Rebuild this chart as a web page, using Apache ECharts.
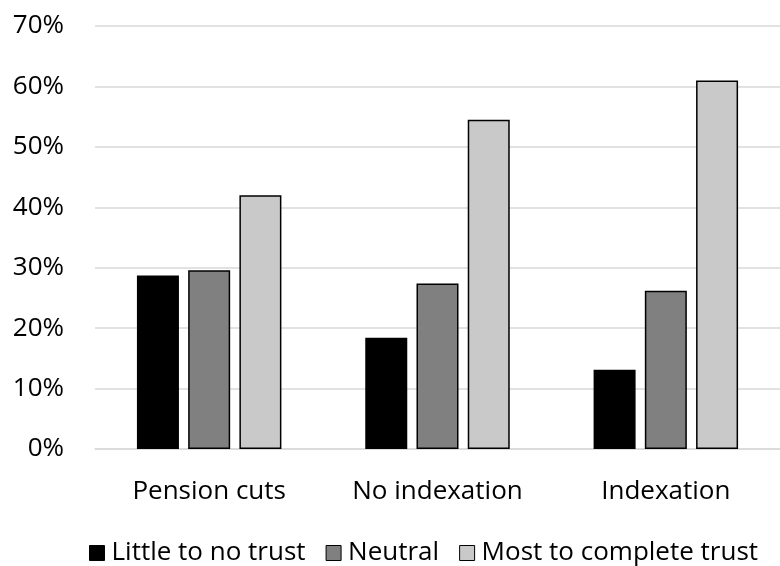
<!DOCTYPE html>
<html>
<head>
<meta charset="utf-8">
<script src="https://cdn.jsdelivr.net/npm/echarts@6/dist/echarts.min.js"></script>
<style>
html, body { margin: 0; padding: 0; background: #fff; }
#chart { width: 780px; height: 566px; }
</style>
</head>
<body>
<div id="chart"></div>
<script>
// 数据
var categories = ['Pension cuts', 'No indexation', 'Indexation'];
var seriesNames = ['Little to no trust', 'Neutral', 'Most to complete trust'];
var littleTrust = [28.7, 18.4, 13.1];
var neutral = [29.6, 27.4, 26.2];
var mostTrust = [42.0, 54.5, 61.0];
var colors = ['#000000', '#808080', '#c9c9c9'];

var fontFamily = '"Open Sans", "Noto Sans", sans-serif';

var chart = echarts.init(document.getElementById('chart'));

function makeBar(name, values, color) {
    return {
        name: name,
        type: 'bar',
        data: values,
        barWidth: 42,
        barGap: '22%',
        itemStyle: {
            color: color,
            borderColor: '#000',
            borderWidth: 1.5
        }
    };
}

var opt = {
    animation: false,
    grid: {
        left: 95,
        right: 0,
        top: 26,
        bottom: 117
    },
    legend: {
        top: 535,
        left: 84,
        itemWidth: 15,
        itemHeight: 15,
        itemGap: 20,
        icon: 'rect',
        textStyle: {
            fontFamily: fontFamily,
            fontSize: 26,
            color: '#000',
            padding: [0, 0, 0, 2]
        },
        data: seriesNames.map(function (n, i) {
            return { name: n, itemStyle: { color: colors[i], borderColor: '#000', borderWidth: 1 } };
        })
    },
    xAxis: {
        type: 'category',
        data: categories,
        axisTick: { show: false },
        axisLine: { lineStyle: { color: '#d9d9d9', width: 1.5 } },
        axisLabel: {
            interval: 0,
            margin: 30,
            fontFamily: fontFamily,
            fontSize: 26,
            color: '#000'
        }
    },
    yAxis: {
        type: 'value',
        min: 0,
        max: 70,
        interval: 10,
        axisLine: { show: false },
        axisTick: { show: false },
        splitLine: { lineStyle: { color: '#d9d9d9', width: 1.5 } },
        axisLabel: {
            margin: 31,
            formatter: '{value}%',
            fontFamily: fontFamily,
            fontSize: 26,
            color: '#000'
        }
    },
    series: [
        makeBar(seriesNames[0], littleTrust, colors[0]),
        makeBar(seriesNames[1], neutral, colors[1]),
        makeBar(seriesNames[2], mostTrust, colors[2])
    ]
};
chart.setOption(opt);
</script>
</body>
</html>
